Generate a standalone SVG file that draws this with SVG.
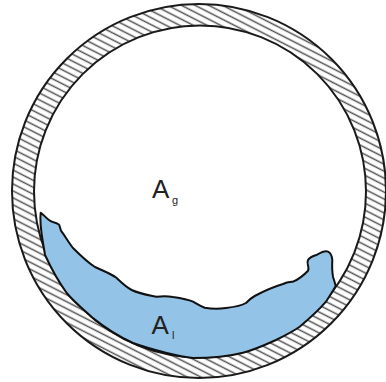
<svg xmlns="http://www.w3.org/2000/svg" width="386" height="382" viewBox="0 0 386 382">
  <style>
    .ring { stroke: #1a1a1a; stroke-width: 2; }
    .label { font-family: "Liberation Sans", Arial, sans-serif; fill: #222; }
    .main { font-size: 26px; }
    .sub { font-size: 11px; }
  </style>
  <defs>
    <pattern id="hatch" width="6.2" height="6.2" patternUnits="userSpaceOnUse" patternTransform="rotate(27)">
      <rect width="6.2" height="6.2" fill="#fff"/>
      <line x1="0" y1="3" x2="6.2" y2="3" stroke="#555" stroke-width="1.5"/>
    </pattern>
  </defs>
  <rect width="386" height="382" fill="#fff"/>
  <g id="pipe-wall">
    <circle cx="199" cy="191" r="187" fill="url(#hatch)" class="ring"/>
    <circle cx="200" cy="191.5" r="166" fill="#fff" class="ring"/>
  </g>
  <g id="liquid">
    <path d="M40.7 212.7 C44 215 47 219 50 220.7 C53 223 57 222 59.3 225 L61 230.7 C65 236 69 243 73 248 C80 255 87 262 95 267 C103 271 110 273 116.7 278 C122 283 126 287 131.7 290 C140 294 148 295 156.7 296.7 C162 296 168 296 173 297 C180 298 187 299 193 301.7 C197 304 200 306 204.7 307.7 C212 309 219 309 226 308 C234 307 241 306 246 303 C249 300 251 298 254.7 296 C264 291 273 287 283 284 C287 282 290 282 293 281.7 C299 279 304 275 308 270.7 C310 267 306 264 308 260 C310 257 313 256 316.3 255 C320 253 325 250 328 251.7 C331 253 332 257 332.3 260 C332 266 332 271 333 276.7 C334 280 335 283 335.7 286 C333 291 329 297 326 301.7 C318 311 309 319 299.7 326.7 C292 332 284 336 276 340 C265 345 254 350 243 352.7 C226 357 209 358 193 358 C184 357 175 355 166.7 353 C155 350 144 347 133 343 C118 336 104 327 91.7 317 C83 309 74 302 66.7 293 C58 281 51 268 45 255 C43 241 39 226 40.7 212.7 Z" fill="#93c3e6" stroke="#111" stroke-width="2" stroke-linejoin="round"/>
  </g>
  <g id="label-ag">
    <text class="label main" x="152" y="198">A</text>
    <text class="label sub" x="172" y="204">g</text>
  </g>
  <g id="label-al">
    <text class="label main" x="151.500" y="334">A</text>
    <text class="label sub" x="172" y="339">l</text>
  </g>
</svg>
